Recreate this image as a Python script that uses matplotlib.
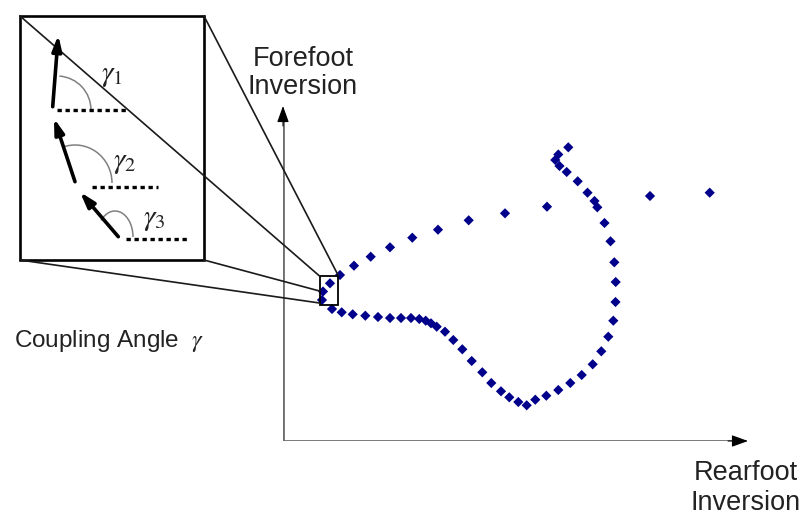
import matplotlib
matplotlib.use('Agg')
import matplotlib.pyplot as plt
from matplotlib.patches import Rectangle, Arc

plt.rcParams['font.family'] = ['Liberation Sans', 'DejaVu Sans']
plt.rcParams['mathtext.fontset'] = 'stix'

# one stance phase: rearfoot vs forefoot inversion (arbitrary units)
rearfoot = [426.7, 367.0, 264.0, 222.0, 185.7, 155.0, 129.3, 107.0, 87.7, 71.0,
            57.0, 47.0, 40.0, 39.0, 49.0, 58.7, 69.7, 82.3, 95.0, 107.0,
            118.0, 128.0, 136.3, 142.7, 148.0, 153.7, 162.0, 170.3, 179.3, 188.7,
            199.3, 208.3, 218.0, 226.3, 235.3, 243.7, 252.3, 263.3, 275.3, 287.3,
            298.7, 309.7, 318.3, 325.3, 330.3, 332.5, 332.7, 331.3, 327.5, 321.5,
            314.3, 311.5, 304.5, 294.7, 283.7, 276.5, 272.3, 275.3, 285.3]
forefoot = [248.3, 245.0, 234.3, 227.7, 220.7, 211.3, 203.3, 193.7, 184.3, 175.3,
            166.0, 157.7, 149.5, 141.0, 132.0, 128.7, 126.7, 125.3, 124.0, 123.0,
            123.0, 123.0, 122.0, 120.3, 117.7, 114.3, 109.3, 101.0, 91.7, 80.0,
            68.7, 58.0, 49.7, 43.7, 39.0, 35.7, 41.3, 45.3, 51.0, 58.0,
            66.0, 76.7, 89.7, 104.3, 120.3, 139.0, 159.0, 178.7, 199.7, 218.0,
            233.7, 240.0, 248.3, 259.7, 269.0, 275.0, 281.0, 286.5, 293.7]

# vectors shown in the magnified view: (tail x, tail y, head x, head y)
vectors = [(52.7, 106.7, 58.3, 35.0),
           (75.0, 181.7, 54.0, 118.3),
           (118.3, 236.7, 80.0, 192.0)]
angle_labels = [r'$\gamma_1$', r'$\gamma_2$', r'$\gamma_3$']

fig = plt.figure(figsize=(8.05, 5.16), dpi=100)

# main plot, 1 unit = 1 pixel, origin on the axis corner
ax = fig.add_axes([283 / 805, 75 / 516, 465 / 805, 335 / 516])
ax.set_xlim(0, 465)
ax.set_ylim(0, 335)
ax.axis('off')
ax.plot([0, 455], [0, 0], color='#6e6e6e', lw=2.0, solid_capstyle='butt')
ax.plot([0, 0], [0, 325], color='#6e6e6e', lw=2.0, solid_capstyle='butt')
head = dict(arrowstyle='-|>,head_length=1.0,head_width=0.36', mutation_scale=10,
            color='black', lw=0.8, shrinkA=0, shrinkB=0)
ax.annotate('', xy=(465, 0), xytext=(445, 0), arrowprops=head)
ax.annotate('', xy=(0, 335), xytext=(0, 315), arrowprops=head)
ax.scatter(rearfoot, forefoot, marker='D', s=27, color='#00008b',
           edgecolors='none', zorder=5, clip_on=False)

# overlay in pixel coordinates for the zoom box and the labels
ov = fig.add_axes([0, 0, 1, 1])
ov.set_xlim(0, 805)
ov.set_ylim(516, 0)
ov.axis('off')
ov.patch.set_alpha(0)

ov.add_patch(Rectangle((20, 16), 184, 244, fill=False, ec='black', lw=1.9))
ov.add_patch(Rectangle((319.5, 275.5), 18.5, 29.5, fill=False, ec='black', lw=1.3))
for x0, y0, x1, y1 in [(20, 16, 319.5, 276), (204, 16, 338, 275),
                       (204, 260, 319.5, 291), (20, 260, 319.5, 303)]:
    ov.plot([x0, x1], [y0, y1], color='#1a1a1a', lw=1.2)

# coupling vectors with their horizontal references and angle arcs
dots = [(57, 127, 110), (92, 158, 186.7), (126, 187, 239.3)]
arcs = [(57, 110, 68, 68, -86), (75, 183, 74, 76, -110), (115, 237, 36, 52, -130)]
label_pos = [(101, 75), (113, 162), (143, 219)]
for (tx, ty, hx, hy), (dx0, dx1, dy), (cx, cy, w, h, a), lab, (lx, ly) in zip(
        vectors, dots, arcs, angle_labels, label_pos):
    ov.annotate('', xy=(hx, hy), xytext=(tx, ty),
                arrowprops=dict(arrowstyle='-|>,head_length=0.9,head_width=0.28',
                                mutation_scale=10, color='black', lw=2.6,
                                shrinkA=0, shrinkB=0))
    ov.plot([dx0, dx1], [dy, dy], color='black', lw=2.4, dashes=(1.3, 1.1),
            solid_capstyle='butt')
    ov.add_patch(Arc((cx, cy), w, h, theta1=a, theta2=0, color='#808080', lw=1.1))
    ov.text(lx, ly, lab, fontsize=21, ha='left', va='center', color='#222222')

ov.text(303, 73, 'Forefoot\nInversion', fontsize=19.5, ha='center', va='center',
        linespacing=1.15, color='#222222')
ov.text(746, 488, 'Rearfoot\nInversion', fontsize=19.5, ha='center', va='center',
        linespacing=1.15, color='#222222')
ov.text(14, 341, r'Coupling Angle  $\gamma$', fontsize=17.5, ha='left', va='center',
        color='#222222')

fig.savefig('out.png', dpi=100)
